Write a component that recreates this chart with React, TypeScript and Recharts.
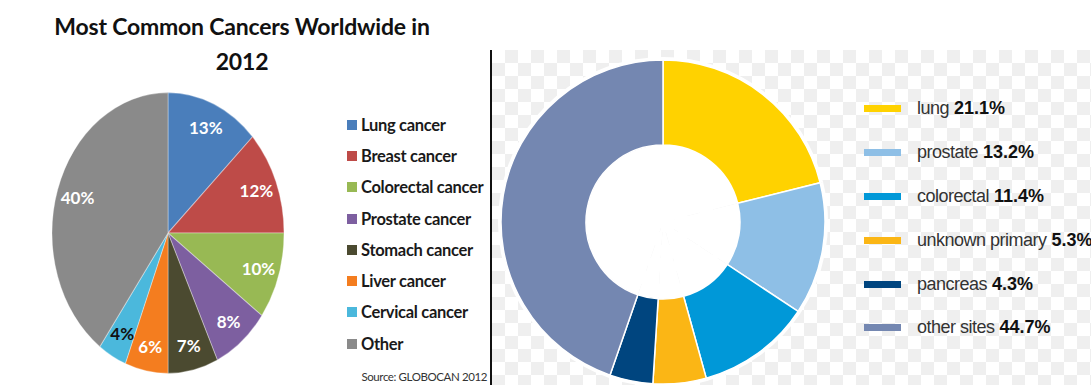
import { PieChart, Pie, Cell } from 'recharts';

// left panel: GLOBOCAN 2012 pie
const leftCategories = ['Lung cancer', 'Breast cancer', 'Colorectal cancer', 'Prostate cancer', 'Stomach cancer', 'Liver cancer', 'Cervical cancer', 'Other'];
const leftValues = [13, 12, 10, 8, 7, 6, 4, 40];
const leftColors = ['#4a7ebb', '#be4b48', '#98b954', '#7d5fa0', '#4b4a30', '#f47d1f', '#4bb8dc', '#8a8a8a'];
const leftLabelColors = ['#fff', '#fff', '#fff', '#fff', '#fff', '#fff', '#111', '#fff'];

// right panel: donut
const rightCategories = ['lung', 'prostate', 'colorectal', 'unknown primary', 'pancreas', 'other sites'];
const rightValues = [21.1, 13.2, 11.4, 5.3, 4.3, 44.7];
const rightColors = ['#ffd200', '#8ebfe6', '#0098d8', '#fbb615', '#00457f', '#7487b1'];

const STRETCH = 1.211;
const RAD = Math.PI / 180;

const leftData = leftCategories.map((name, i) => ({ name, value: leftValues[i] }));
const rightData = rightCategories.map((name, i) => ({ name, value: rightValues[i] }));

function leftLabel(props: any) {
  const { cx, cy, midAngle, outerRadius, value, index } = props;
  const r = outerRadius * 0.82;
  const x = cx + r * Math.cos(-midAngle * RAD);
  const y = cy + r * Math.sin(-midAngle * RAD);
  return (
    <text
      transform={`translate(${x},${y}) scale(1,${1 / STRETCH})`}
      x={0}
      y={0}
      textAnchor="middle"
      dominantBaseline="central"
      fill={leftLabelColors[index]}
      fontFamily="Lato, sans-serif"
      fontWeight={700}
      fontSize={17}
    >
      {`${value}%`}
    </text>
  );
}

export default function App() {
  return (
    <div style={{ position: 'absolute', left: 0, top: 0, width: 1091, height: 385, overflow: 'hidden', background: '#fff' }}>
      {/* left panel */}
      <div style={{ position: 'absolute', left: 0, top: 9, width: 484, textAlign: 'center', fontFamily: 'Lato, sans-serif', fontWeight: 700, fontSize: 23, lineHeight: '35px', color: '#111', letterSpacing: -0.2 }}>
        Most Common Cancers Worldwide in<br />2012
      </div>
      <div style={{ position: 'absolute', left: 48, top: 113, width: 240, height: 240, transform: `scaleY(${STRETCH})`, transformOrigin: '50% 50%' }}>
        <PieChart width={240} height={240} margin={{ top: 0, right: 0, bottom: 0, left: 0 }}>
          <Pie
            data={leftData}
            dataKey="value"
            cx={120}
            cy={120}
            outerRadius={116}
            startAngle={90}
            endAngle={-270}
            stroke="rgba(255,255,255,0.35)"
            strokeWidth={1}
            label={leftLabel}
            labelLine={false}
            isAnimationActive={false}
          >
            {leftData.map((d, i) => <Cell key={d.name} fill={leftColors[i]} />)}
          </Pie>
        </PieChart>
      </div>
      <div style={{ position: 'absolute', left: 347, top: 109, fontFamily: 'Lato, sans-serif', fontWeight: 700, fontSize: 16.5, color: '#1a1a1a', letterSpacing: -0.3 }}>
        {leftCategories.map((c, i) => (
          <div key={c} style={{ height: 31.3, display: 'flex', alignItems: 'center' }}>
            <span style={{ width: 10, height: 10, background: leftColors[i], marginRight: 4, display: 'inline-block' }} />
            {c}
          </div>
        ))}
      </div>
      <div style={{ position: 'absolute', right: 604, top: 370, fontFamily: 'Lato, sans-serif', fontSize: 11.5, color: '#333', letterSpacing: -0.4 }}>
        Source: GLOBOCAN 2012
      </div>

      {/* right panel */}
      <div
        style={{
          position: 'absolute', left: 490, top: 50, width: 601, height: 335, boxSizing: 'border-box',
          borderLeft: '2px solid #111',
          background: 'repeating-conic-gradient(#efefef 0% 25%, #ffffff 0% 50%) 0 0 / 26px 26px',
        }}
      >
        <PieChart width={599} height={335} margin={{ top: 0, right: 0, bottom: 0, left: 0 }}>
          <Pie data={rightData} dataKey="value" cx={171} cy={172} outerRadius={165} innerRadius={0} startAngle={90} endAngle={-270} stroke="none" fill="#fff" isAnimationActive={false} />
          <Pie
            data={rightData}
            dataKey="value"
            cx={171}
            cy={172}
            innerRadius={77}
            outerRadius={162}
            startAngle={90}
            endAngle={-270}
            stroke="#fff"
            strokeWidth={1.5}
            isAnimationActive={false}
          >
            {rightData.map((d, i) => <Cell key={d.name} fill={rightColors[i]} />)}
          </Pie>
        </PieChart>
        <div style={{ position: 'absolute', left: 372, top: 37, fontFamily: '"Liberation Sans", Arial, sans-serif', fontSize: 18, whiteSpace: 'nowrap' }}>
          {rightCategories.map((c, i) => (
            <div key={c} style={{ height: 43.8, display: 'flex', alignItems: 'center' }}>
              <span style={{ width: 37, height: 7, background: rightColors[i], marginRight: 16, display: 'inline-block' }} />
              <span style={{ color: '#333', letterSpacing: -0.5 }}>{c}</span>
              <span style={{ color: '#111', fontWeight: 700, marginLeft: 5 }}>{`${rightValues[i]}%`}</span>
            </div>
          ))}
        </div>
      </div>
    </div>
  );
}
